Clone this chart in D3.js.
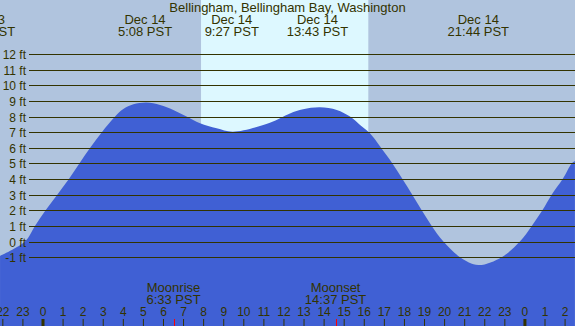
<!DOCTYPE html>
<html>
<head>
<meta charset="utf-8">
<script src="https://cdn.jsdelivr.net/npm/d3@7"></script>
<style>
  body { margin: 0; background: #b0c4de; }
  svg { display: block; font-family: "Liberation Sans", Arial, sans-serif; }
</style>
</head>
<body>
<div id="chart"></div>
<script>
// Chart size
const width = 575;
const height = 326;

// Tide height readings (hours from Dec 14 00:00 PST, feet)
const tideHours = [-2.09, -0.85, -0.35, 0.18, 0.76, 1.34, 1.86, 2.4, 2.98, 3.64, 4.05, 4.55, 5.2, 5.88, 6.54, 7.2, 7.87, 8.7, 9.51, 11.35, 12.35, 13.0, 13.84, 14.68, 15.34, 15.84, 16.33, 16.83, 17.45, 17.95, 18.44, 18.91, 19.41, 19.99, 20.82, 21.73, 22.89, 23.8, 24.39, 24.92, 25.38, 25.93, 26.38, 26.54];
const tideFeet  = [-0.92, 0, 1, 2, 3, 4, 5, 6, 7, 8, 8.48, 8.78, 8.9, 8.74, 8.42, 8.0, 7.57, 7.25, 7.03, 7.6, 8.2, 8.46, 8.59, 8.42, 8.0, 7.46, 6.93, 6.1, 5, 4, 3, 2, 1, 0, -1, -1.5, -1, 0, 1, 2, 3, 4, 5, 5.15];

// High / low tide labels
const eventHours = [-2.87, 5.13, 9.45, 13.72, 21.73];
const eventDays  = ["Dec 13", "Dec 14", "Dec 14", "Dec 14", "Dec 14"];
const eventTimes = ["21:08 PST", "5:08 PST", "9:27 PST", "13:43 PST", "21:44 PST"];

// Moon events
const moonHours = [6.55, 14.62];
const moonNames = ["Moonrise", "Moonset"];
const moonTimes = ["6:33 PST", "14:37 PST"];

// Daylight (sunrise, sunset)
const sunrise = 7.92;
const sunset = 16.25;

// Height grid and hour ticks
const feetTicks = d3.range(-1, 13);
const hourTicks = d3.range(-2, 27);

const textColor = "#333300";

const x = d3.scaleLinear().domain([0, 24]).range([42, 42 + 24 * 20.08]);
const y = d3.scaleLinear().domain([0, 12]).range([241.5, 54]);

const svg = d3.select("#chart")
    .append("svg")
    .attr("width", width)
    .attr("height", height);

// background
svg.append("rect")
    .attr("width", width)
    .attr("height", height)
    .attr("fill", "#b0c4de");

// daylight band
svg.append("rect")
    .attr("x", x(sunrise))
    .attr("y", 0)
    .attr("width", x(sunset) - x(sunrise))
    .attr("height", height)
    .attr("fill", "#ddf8ff");

// tide area
const tide = tideHours.map((h, i) => ({ h: h, ft: tideFeet[i] }));
const area = d3.area()
    .x(d => x(d.h))
    .y0(height)
    .y1(d => y(d.ft))
    .curve(d3.curveCatmullRom.alpha(0.5));

svg.append("path")
    .datum(tide)
    .attr("d", area)
    .attr("fill", "#4060d4");

// height grid lines and labels
const grid = svg.append("g");
feetTicks.forEach(f => {
    const yy = Math.round(y(f)) + 0.5;
    grid.append("line")
        .attr("x1", 29)
        .attr("x2", width)
        .attr("y1", yy)
        .attr("y2", yy)
        .attr("stroke", textColor)
        .attr("stroke-width", 1);
    grid.append("text")
        .attr("x", 26)
        .attr("y", yy + 4.5)
        .attr("text-anchor", "end")
        .attr("font-size", 12)
        .attr("fill", textColor)
        .text(f + " ft");
});

// title
svg.append("text")
    .attr("x", width / 2)
    .attr("y", 12)
    .attr("text-anchor", "middle")
    .attr("font-size", 13)
    .attr("fill", textColor)
    .text("Bellingham, Bellingham Bay, Washington");

// tide event labels
eventHours.forEach((h, i) => {
    svg.append("text")
        .attr("x", x(h))
        .attr("y", 24)
        .attr("text-anchor", "middle")
        .attr("font-size", 13)
        .attr("fill", textColor)
        .text(eventDays[i]);
    svg.append("text")
        .attr("x", x(h))
        .attr("y", 36)
        .attr("text-anchor", "middle")
        .attr("font-size", 13)
        .attr("fill", textColor)
        .text(eventTimes[i]);
});

// moon labels
moonHours.forEach((h, i) => {
    svg.append("text")
        .attr("x", x(h))
        .attr("y", 292)
        .attr("text-anchor", "middle")
        .attr("font-size", 13)
        .attr("fill", textColor)
        .text(moonNames[i]);
    svg.append("text")
        .attr("x", x(h))
        .attr("y", 304)
        .attr("text-anchor", "middle")
        .attr("font-size", 13)
        .attr("fill", textColor)
        .text(moonTimes[i]);
});

// hour axis along the bottom
const axis = d3.axisTop(x)
    .tickValues(hourTicks)
    .tickSize(7)
    .tickPadding(3)
    .tickFormat(h => ((h % 24) + 24) % 24);

const axisG = svg.append("g")
    .attr("transform", `translate(0.5,${height})`)
    .call(axis);

axisG.select(".domain").remove();
axisG.selectAll("line")
    .attr("stroke", textColor)
    .attr("stroke-width", h => h % 24 === 0 ? 3 : 1);
axisG.selectAll("text")
    .attr("fill", textColor)
    .attr("font-size", 12)
    .attr("font-family", "'Liberation Sans', Arial, sans-serif");

// moon ticks in red
moonHours.forEach(h => {
    svg.append("line")
        .attr("x1", Math.round(x(h)) + 0.5)
        .attr("x2", Math.round(x(h)) + 0.5)
        .attr("y1", height - 7)
        .attr("y2", height)
        .attr("stroke", "#ff0000")
        .attr("stroke-width", 1);
});
</script>
</body>
</html>
